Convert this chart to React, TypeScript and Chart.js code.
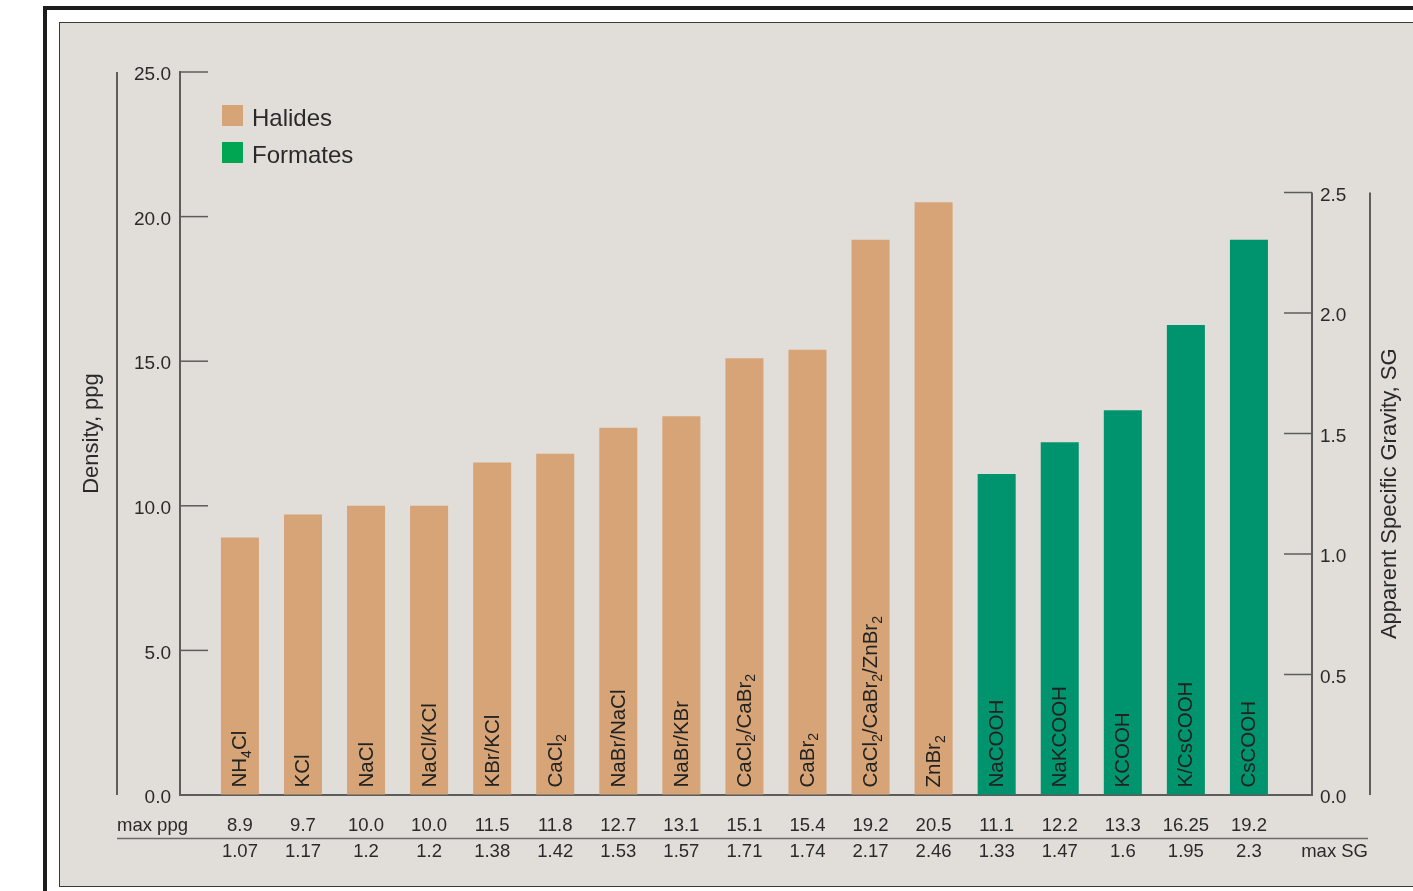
import React, { useEffect, useRef } from 'react';
import { Chart, registerables } from 'chart.js';

Chart.register(...registerables);

// ---------- data ----------
const categories = [
  'NH{4}Cl', 'KCl', 'NaCl', 'NaCl/KCl', 'KBr/KCl', 'CaCl{2}', 'NaBr/NaCl', 'NaBr/KBr',
  'CaCl{2}/CaBr{2}', 'CaBr{2}', 'CaCl{2}/CaBr{2}/ZnBr{2}', 'ZnBr{2}',
  'NaCOOH', 'NaKCOOH', 'KCOOH', 'K/CsCOOH', 'CsCOOH',
];
const seriesNames = ['Halides', 'Formates'];
const seriesOf = [0, 0, 0, 0, 0, 0, 0, 0, 0, 0, 0, 0, 1, 1, 1, 1, 1];
const maxPpg = [8.9, 9.7, 10.0, 10.0, 11.5, 11.8, 12.7, 13.1, 15.1, 15.4, 19.2, 20.5, 11.1, 12.2, 13.3, 16.25, 19.2];
const maxSG = [1.07, 1.17, 1.2, 1.2, 1.38, 1.42, 1.53, 1.57, 1.71, 1.74, 2.17, 2.46, 1.33, 1.47, 1.6, 1.95, 2.3];
const rowLabels = ['max ppg', 'max SG'];
const axisTitles = ['Density, ppg', 'Apparent Specific Gravity, SG'];
const ppgRange = [0, 25];
const sgRange = [0, 3.0];
const sgTickMax = 2.5;

// ---------- styles ----------
const FONT = '"Liberation Sans", Arial, sans-serif';
const TEXT = '#2a2a2a';
const AXIS = '#5c5c5c';
const barColors = ['#d6a476', '#00946e'];
const legendColors = ['#d6a476', '#00a651'];

const fmtPpg = (v: number) =>
  Math.abs(v * 10 - Math.round(v * 10)) < 1e-9 ? v.toFixed(1) : String(v);

function drawRich(ctx: CanvasRenderingContext2D, text: string, x: number, y: number, mainPx: number, subPx: number, subShift: number) {
  const parts = text.split(/(\{\d+\})/).filter((p) => p.length > 0);
  let cx = x;
  for (const p of parts) {
    const m = p.match(/^\{(\d+)\}$/);
    if (m) {
      ctx.font = `${subPx}px ${FONT}`;
      ctx.fillText(m[1], cx, y + subShift);
      cx += ctx.measureText(m[1]).width;
    } else {
      ctx.font = `${mainPx}px ${FONT}`;
      ctx.fillText(p, cx, y);
      cx += ctx.measureText(p).width;
    }
  }
}

function line(ctx: CanvasRenderingContext2D, x1: number, y1: number, x2: number, y2: number) {
  ctx.beginPath();
  ctx.moveTo(x1, y1);
  ctx.lineTo(x2, y2);
  ctx.stroke();
}

const decorPlugin = {
  id: 'decor',
  afterDraw(chart: any) {
    const { ctx, chartArea, scales } = chart;
    const xs = scales.x;
    const ys = scales.y;
    const y2s = scales.y2;
    const base = ys.getPixelForValue(0);
    ctx.save();

    // inward tick marks
    ctx.strokeStyle = AXIS;
    ctx.lineWidth = 1.5;
    ys.ticks.forEach((t: any) => {
      const py = ys.getPixelForValue(t.value);
      line(ctx, chartArea.left, py, chartArea.left + 28, py);
    });
    y2s.ticks.forEach((t: any) => {
      const py = y2s.getPixelForValue(t.value);
      line(ctx, chartArea.right - 28, py, chartArea.right, py);
    });
    // right axis border (only up to top tick)
    const y2Top = y2s.getPixelForValue(y2s.ticks[y2s.ticks.length - 1].value);
    ctx.lineWidth = 2;
    line(ctx, chartArea.right, y2Top, chartArea.right, base + 1);

    // outer title rules
    ctx.strokeStyle = '#333';
    ctx.lineWidth = 1.5;
    line(ctx, 117, ys.getPixelForValue(ppgRange[1]), 117, base);
    line(ctx, 1370, y2Top, 1370, base);

    // right axis title (reads bottom to top)
    ctx.fillStyle = TEXT;
    ctx.font = `22px ${FONT}`;
    ctx.textAlign = 'center';
    ctx.textBaseline = 'middle';
    ctx.save();
    ctx.translate(1390, (y2Top + base) / 2);
    ctx.rotate(-Math.PI / 2);
    ctx.fillText(axisTitles[1], 0, 0);
    ctx.restore();

    // legend
    ctx.textAlign = 'left';
    ctx.textBaseline = 'alphabetic';
    ctx.font = `24px ${FONT}`;
    seriesNames.forEach((name, i) => {
      const top = 105 + i * 37;
      ctx.fillStyle = legendColors[i];
      ctx.fillRect(222, top, 21, 21);
      ctx.fillStyle = TEXT;
      ctx.fillText(name, 252, top + 21);
    });

    // labels inside bars
    const meta = chart.getDatasetMeta(0);
    ctx.fillStyle = '#222';
    meta.data.forEach((el: any, i: number) => {
      ctx.save();
      ctx.translate(el.x, base - 7.5);
      ctx.rotate(-Math.PI / 2);
      ctx.textAlign = 'left';
      ctx.textBaseline = 'alphabetic';
      drawRich(ctx, categories[i], 0, 6.5, 20.5, 14, 4.5);
      ctx.restore();
    });

    // table below
    ctx.fillStyle = TEXT;
    ctx.font = `18.5px ${FONT}`;
    ctx.textBaseline = 'middle';
    const r1 = base + 31;
    const r2 = base + 57;
    ctx.textAlign = 'center';
    maxPpg.forEach((v, i) => {
      const px = xs.getPixelForValue(i);
      ctx.fillText(fmtPpg(v), px, r1);
      ctx.fillText(String(maxSG[i]), px, r2);
    });
    ctx.textAlign = 'left';
    ctx.fillText(rowLabels[0], 117, r1);
    ctx.textAlign = 'right';
    ctx.fillText(rowLabels[1], 1368, r2);
    ctx.strokeStyle = '#6a6a6a';
    ctx.lineWidth = 1.5;
    line(ctx, 117, base + 43.5, 1368, base + 43.5);

    ctx.restore();
  },
};

export default function App() {
  const ref = useRef<HTMLCanvasElement | null>(null);

  useEffect(() => {
    if (!ref.current) return;
    const chart = new Chart(ref.current, {
      type: 'bar',
      data: {
        datasets: [
          {
            label: 'max ppg',
            data: maxPpg.map((v, i) => ({ x: i, y: v })),
            backgroundColor: seriesOf.map((s) => barColors[s]),
            categoryPercentage: 0.603,
            barPercentage: 1,
            xAxisID: 'x',
            yAxisID: 'y',
          } as any,
        ],
      },
      options: {
        responsive: false,
        animation: false,
        events: [],
        layout: { padding: { left: 60, right: 41, top: 72, bottom: 96 } },
        plugins: { legend: { display: false }, tooltip: { enabled: false } },
        scales: {
          x: {
            type: 'linear',
            offset: false,
            min: -0.95,
            max: 17,
            ticks: { display: false, stepSize: 1, includeBounds: false },
            grid: { display: true, drawOnChartArea: false, drawTicks: false, offset: false },
            border: { display: true, color: AXIS, width: 2 },
            afterFit: (s: any) => { s.height = 0; },
          },
          y: {
            position: 'left',
            min: ppgRange[0],
            max: ppgRange[1],
            ticks: {
              stepSize: 5,
              callback: (v: any) => Number(v).toFixed(1),
              font: { size: 19, family: FONT },
              color: TEXT,
              padding: 9,
              labelOffset: 3,
            },
            grid: { display: true, drawOnChartArea: false, drawTicks: false },
            border: { display: true, color: AXIS, width: 2 },
            title: {
              display: true,
              text: axisTitles[0],
              font: { size: 22, family: FONT },
              color: TEXT,
              padding: { top: 19, bottom: 0 },
            },
            afterFit: (s: any) => { s.width = 120; },
          },
          y2: {
            position: 'right',
            min: sgRange[0],
            max: sgRange[1],
            ticks: {
              stepSize: 0.5,
              callback: (v: any) => Number(v).toFixed(1),
              font: { size: 19, family: FONT },
              color: TEXT,
              padding: 8,
              labelOffset: 3,
            },
            grid: { display: true, drawOnChartArea: false, drawTicks: false },
            border: { display: false },
            afterBuildTicks: (s: any) => {
              s.ticks = s.ticks.filter((t: any) => t.value <= sgTickMax + 1e-9);
            },
            afterFit: (s: any) => { s.width = 60; },
          },
        },
      } as any,
      plugins: [decorPlugin],
    });
    return () => chart.destroy();
  }, []);

  return (
    <div style={{ position: 'absolute', left: 0, top: 0, width: 1413, height: 891, background: '#ffffff', overflow: 'hidden' }}>
      <div style={{ position: 'absolute', left: 43, top: 6, width: 2000, height: 2000, borderLeft: '4px solid #1c1c1c', borderTop: '4px solid #1c1c1c' }} />
      <div style={{ position: 'absolute', left: 59, top: 22, width: 2000, height: 863, background: '#e1ded9', border: '1.5px solid #3a3a3a' }} />
      <canvas ref={ref} width={1413} height={891} style={{ position: 'absolute', left: 0, top: 0 }} />
    </div>
  );
}
